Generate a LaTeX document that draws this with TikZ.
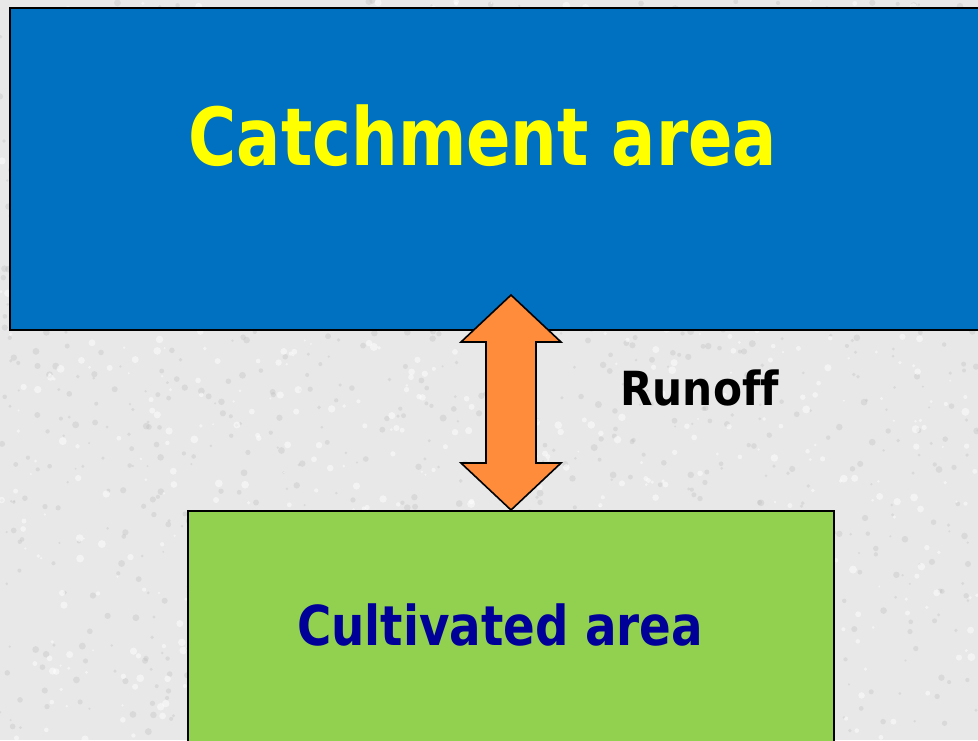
\documentclass[tikz,border=0pt]{standalone}
\usepackage{fontspec}
\newfontfamily\tahA[FakeStretch=0.82]{DejaVu Sans}
\newfontfamily\tahC[FakeStretch=0.85]{DejaVu Sans}
\newfontfamily\tahB[FakeStretch=0.9,Ligatures=NoCommon]{DejaVu Sans}
\definecolor{bgray}{HTML}{E8E8E8}
\definecolor{cblue}{HTML}{0070C0}
\definecolor{cyel}{HTML}{FFFF00}
\definecolor{cgreen}{HTML}{92D050}
\definecolor{cnavy}{HTML}{000099}
\definecolor{corange}{HTML}{FF8C3A}
\tikzset{
  areabox/.style={draw=black, line width=2pt},
  flowarrow/.style={fill=corange, draw=black, line width=1.6pt, line join=miter},
  bigtext/.style={anchor=base, inner sep=0pt}
}
\begin{document}
\begin{tikzpicture}[x=1pt,y=-1pt]
\useasboundingbox (0,0) rectangle (978,740);
\clip (0,0) rectangle (978,740);
\fill[bgray] (0,0) rectangle (978,740);
\pgfmathsetseed{7}
\foreach \i in {1,...,1400} {
  \pgfmathsetmacro{\px}{rnd*978}
  \pgfmathsetmacro{\py}{rnd*740}
  \pgfmathsetmacro{\pr}{1+rnd*2.5}
  \fill[black!25, opacity=0.35] (\px,\py) circle[radius=\pr];
}
\foreach \i in {1,...,900} {
  \pgfmathsetmacro{\px}{rnd*978}
  \pgfmathsetmacro{\py}{rnd*740}
  \pgfmathsetmacro{\pr}{1+rnd*3}
  \fill[white, opacity=0.5] (\px,\py) circle[radius=\pr];
}
\path[areabox, fill=cblue] (10,8) rectangle (990,330);
\path[areabox, fill=cgreen] (188,511) rectangle (834,760);
\node[bigtext, text=cyel, font=\fontsize{80}{80}\selectfont\tahA\bfseries] (catch) at (483,165) {Catchment area};
\node[bigtext, text=cnavy, font=\fontsize{55}{55}\selectfont\tahC\bfseries] (cult) at (500,645) {Cultivated area};
\node[anchor=base west, inner sep=0pt, font=\fontsize{47}{47}\selectfont\tahB\bfseries] (runoff) at (620,405) {Runof{}f};
\draw[flowarrow] (511,295) -- (561,342) -- (536,342) -- (536,463) -- (561,463) -- (511,510)
  -- (461,463) -- (486,463) -- (486,342) -- (461,342) -- cycle;
\end{tikzpicture}
\end{document}
